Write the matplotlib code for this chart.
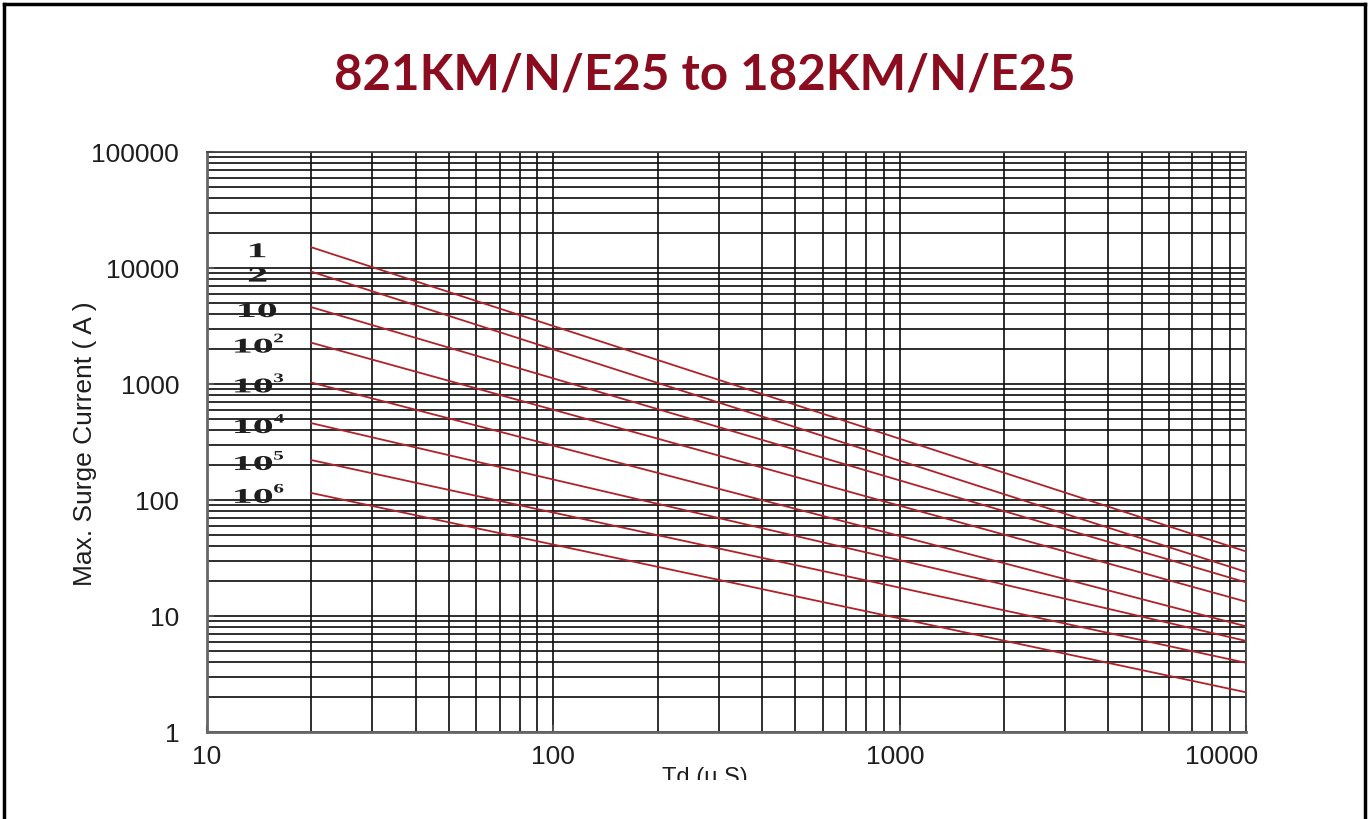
import matplotlib
matplotlib.use("Agg")
import matplotlib.pyplot as plt
from matplotlib.lines import Line2D
from matplotlib.patches import PathPatch
from matplotlib.textpath import TextPath
from matplotlib.font_manager import FontProperties
from matplotlib.transforms import (Affine2D, ScaledTranslation, Bbox, TransformedBbox,
                                   blended_transform_factory, offset_copy)
from matplotlib.ticker import LogLocator, FixedLocator, FixedFormatter, NullFormatter

TITLE = "821KM/N/E25 to 182KM/N/E25"
X_LABEL = "Td (u S)"
Y_LABEL = "Max. Surge Current ( A )"

# pulse width range of every curve (us)
pulse_time = [20, 10000]
# curve labels: number of surges
curve_base = ["1", "2", "10", "10", "10", "10", "10", "10"]
curve_exp = ["", "", "", "2", "3", "4", "5", "6"]
# max surge current at the start / end of each curve (A)
current_start = [15100, 9300, 4600, 2270, 1030, 460, 221, 115]
current_end = [36, 24, 19.5, 13.3, 8.15, 6.1, 3.95, 2.2]

y_ticks = [1, 10, 100, 1000, 10000, 100000]
x_ticks = [10, 100, 1000, 10000]
x_tick_labels = ["10", "100", "1000", "10000"]

W, H = 1371, 820
RED = "#b0222a"
INK = "#1e1e1e"
TITLE_RED = "#8a0c1e"

fig = plt.figure(figsize=(W / 100, H / 100), dpi=100)
ax = fig.add_axes([207 / W, 1 - 733 / H, (1246 - 207) / W, (733 - 153) / H])
ax.set_xscale("log")
ax.set_yscale("log")

for start, end in zip(current_start, current_end):
    ax.plot(pulse_time, [start, end], color=RED, lw=1.3, zorder=3)

ax.set_xlim(x_ticks[0], x_ticks[-1])
ax.set_ylim(y_ticks[0], y_ticks[-1])

ax.xaxis.set_major_locator(FixedLocator(x_ticks))
ax.xaxis.set_major_formatter(NullFormatter())
ax.yaxis.set_major_locator(FixedLocator(y_ticks))
ax.yaxis.set_major_formatter(FixedFormatter([str(v) for v in y_ticks]))
for axis in (ax.xaxis, ax.yaxis):
    axis.set_minor_locator(LogLocator(base=10, subs=range(2, 10), numticks=20))
    axis.set_minor_formatter(NullFormatter())

ax.grid(which="both", color="#111111", lw=1.3, alpha=0.95)
ax.set_axisbelow(True)
ax.tick_params(which="major", direction="in", length=5, width=1.5, color="#555555")
ax.tick_params(which="minor", length=0)
ax.tick_params(axis="y", which="major", pad=20, labelsize=19, labelcolor=INK)
for lab in ax.get_yticklabels():
    lab.set_fontfamily("Liberation Sans")

# x tick labels drawn by hand: the last one sits left of its tick in the original
x_shift = [0, 0, -4, -24]
xt = blended_transform_factory(ax.transData, ax.transAxes)
for v, lab, dx in zip(x_ticks, x_tick_labels, x_shift):
    ax.text(v, 0, lab, transform=offset_copy(xt, fig=fig, x=dx, y=-12, units="dots"),
            ha="center", va="top", fontsize=19, color=INK, family="Liberation Sans",
            clip_on=False)

for side in ("left", "bottom"):
    ax.spines[side].set_color("#666666")
    ax.spines[side].set_linewidth(2)
for side in ("top", "right"):
    ax.spines[side].set_color("#444444")
    ax.spines[side].set_linewidth(1.3)

# curve labels, stretched serif glyphs like the datasheet
label_font = FontProperties(family="Liberation Serif", weight="bold")


def curve_label(ax, x, y, base, exp):
    offset = ScaledTranslation(x, y, ax.transData)
    sx, sy = 42, 21
    tp = TextPath((0, 0), base, size=1, prop=label_font)
    bb = tp.get_extents()
    shift = -4 if exp else 0
    t = (Affine2D().translate(-(bb.x0 + bb.x1) / 2, -(bb.y0 + bb.y1) / 2)
         .scale(sx, sy).translate(shift, -3) + offset)
    ax.add_artist(PathPatch(tp, transform=t, fc=INK, ec="none", clip_on=False))
    if exp:
        sp = TextPath((0, 0), exp, size=1, prop=label_font)
        sb = sp.get_extents()
        t2 = (Affine2D().translate(-sb.x0, -sb.y1).scale(sx * 0.5, sy * 0.62)
              .translate(shift + bb.width * sx / 2 + 2, bb.height * sy / 2 + 2) + offset)
        ax.add_artist(PathPatch(sp, transform=t2, fc=INK, ec="none", clip_on=False))


for base, exp, start in zip(curve_base, curve_exp, current_start):
    curve_label(ax, 14.0, start, base, exp)

# title and axis labels
title = fig.text(705 / W, 1 - 75 / H, TITLE, ha="center", va="center",
                 color=TITLE_RED, fontsize=32, fontweight="bold", family="Lato")
renderer = fig.canvas.get_renderer()
tw = title.get_window_extent(renderer).width
title.set_fontsize(32 * 744 / tw)

fig.text(85 / W, 1 - 444 / H, Y_LABEL, rotation=90, ha="center", va="center",
         fontsize=19, color=INK, family="Liberation Sans")
xl = fig.text(705 / W, 1 - 784 / H, X_LABEL, ha="center", va="baseline",
              fontsize=17, color=INK, family="Liberation Sans")
xl.set_clip_box(TransformedBbox(Bbox([[0, 1 - 781 / H], [1, 1]]), fig.transFigure))
xl.set_clip_on(True)

# page frame
frame = dict(color="black", lw=2.5, transform=fig.transFigure)
fig.add_artist(Line2D([4 / W, 4 / W], [0, 1 - 5 / H], **frame))
fig.add_artist(Line2D([4 / W, 1365 / W], [1 - 5 / H, 1 - 5 / H], **frame))
fig.add_artist(Line2D([1365 / W, 1365 / W], [0, 1 - 5 / H], **frame))

fig.savefig("out.png", dpi=100)
